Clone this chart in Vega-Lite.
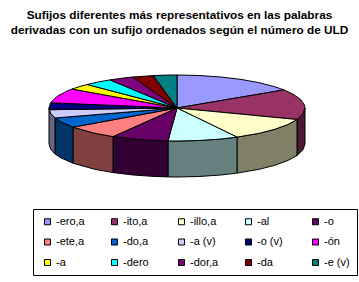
{
"$schema":"https://vega.github.io/schema/vega-lite/v6.json",
"autosize":{"type":"none"},
"padding":{"top":40,"left":0,"right":0,"bottom":0},
"width":359,"height":242,
"background":"white",
"config":{"view":{"stroke":null},"font":"Liberation Sans"},
"title":{"text":["Sufijos diferentes más representativos en las palabras","derivadas con un sufijo ordenados según el número de ULD"],"font":"Liberation Sans","fontSize":11.8,"fontWeight":"bold","color":"black","anchor":"middle","frame":"group","lineHeight":15,"offset":3},
"datasets":{
"top":[
{"s":"-ero,a","i":0,"x":0,"y":0},{"s":"-ero,a","i":1,"x":0,"y":33},{"s":"-ero,a","i":2,"x":22.2,"y":32.5},{"s":"-ero,a","i":3,"x":43.8,"y":31},{"s":"-ero,a","i":4,"x":64,"y":28.6},{"s":"-ero,a","i":5,"x":82.3,"y":25.3},{"s":"-ero,a","i":6,"x":98,"y":21.2},{"s":"-ero,a","i":7,"x":107,"y":18.1},{"s":"-ero,a","i":8,"x":0,"y":0},
{"s":"-ito,a","i":0,"x":0,"y":0},{"s":"-ito,a","i":1,"x":107,"y":18.1},{"s":"-ito,a","i":2,"x":116,"y":13.9},{"s":"-ito,a","i":3,"x":123.6,"y":8.5},{"s":"-ito,a","i":4,"x":127.5,"y":2.9},{"s":"-ito,a","i":5,"x":128,"y":0},{"s":"-ito,a","i":6,"x":126,"y":-5.7},{"s":"-ito,a","i":7,"x":120,"y":-11.5},{"s":"-ito,a","i":8,"x":0,"y":0},
{"s":"-illo,a","i":0,"x":0,"y":0},{"s":"-illo,a","i":1,"x":120,"y":-11.5},{"s":"-illo,a","i":2,"x":110.9,"y":-16.5},{"s":"-illo,a","i":3,"x":98,"y":-21.2},{"s":"-illo,a","i":4,"x":82.3,"y":-25.3},{"s":"-illo,a","i":5,"x":60,"y":-29.1},{"s":"-illo,a","i":6,"x":0,"y":0},
{"s":"-al","i":0,"x":0,"y":0},{"s":"-al","i":1,"x":60,"y":-29.1},{"s":"-al","i":2,"x":43.8,"y":-31},{"s":"-al","i":3,"x":22.2,"y":-32.5},{"s":"-al","i":4,"x":0,"y":-33},{"s":"-al","i":5,"x":-9,"y":-32.9},{"s":"-al","i":6,"x":0,"y":0},
{"s":"-o","i":0,"x":0,"y":0},{"s":"-o","i":1,"x":-9,"y":-32.9},{"s":"-o","i":2,"x":-22.2,"y":-32.5},{"s":"-o","i":3,"x":-43.8,"y":-31},{"s":"-o","i":4,"x":-64,"y":-28.6},{"s":"-o","i":5,"x":0,"y":0},
{"s":"-ete,a","i":0,"x":0,"y":0},{"s":"-ete,a","i":1,"x":-64,"y":-28.6},{"s":"-ete,a","i":2,"x":-82.3,"y":-25.3},{"s":"-ete,a","i":3,"x":-104,"y":-19.2},{"s":"-ete,a","i":4,"x":0,"y":0},
{"s":"-do,a","i":0,"x":0,"y":0},{"s":"-do,a","i":1,"x":-104,"y":-19.2},{"s":"-do,a","i":2,"x":-116,"y":-13.9},{"s":"-do,a","i":3,"x":-122,"y":-10},{"s":"-do,a","i":4,"x":0,"y":0},
{"s":"-a (v)","i":0,"x":0,"y":0},{"s":"-a (v)","i":1,"x":-122,"y":-10},{"s":"-a (v)","i":2,"x":-126,"y":-5.7},{"s":"-a (v)","i":3,"x":-127.8,"y":-1.7},{"s":"-a (v)","i":4,"x":0,"y":0},
{"s":"-o (v)","i":0,"x":0,"y":0},{"s":"-o (v)","i":1,"x":-127.8,"y":-1.7},{"s":"-o (v)","i":2,"x":-128,"y":0},{"s":"-o (v)","i":3,"x":-126.4,"y":5.2},{"s":"-o (v)","i":4,"x":0,"y":0},
{"s":"-ón","i":0,"x":0,"y":0},{"s":"-ón","i":1,"x":-126.4,"y":5.2},{"s":"-ón","i":2,"x":-120.3,"y":11.3},{"s":"-ón","i":3,"x":-110.9,"y":16.5},{"s":"-ón","i":4,"x":-105,"y":18.9},{"s":"-ón","i":5,"x":0,"y":0},
{"s":"-a","i":0,"x":0,"y":0},{"s":"-a","i":1,"x":-105,"y":18.9},{"s":"-a","i":2,"x":-98,"y":21.2},{"s":"-a","i":3,"x":-90,"y":23.5},{"s":"-a","i":4,"x":0,"y":0},
{"s":"-dero","i":0,"x":0,"y":0},{"s":"-dero","i":1,"x":-90,"y":23.5},{"s":"-dero","i":2,"x":-78.8,"y":26},{"s":"-dero","i":3,"x":-67,"y":28.1},{"s":"-dero","i":4,"x":0,"y":0},
{"s":"-dor,a","i":0,"x":0,"y":0},{"s":"-dor,a","i":1,"x":-67,"y":28.1},{"s":"-dor,a","i":2,"x":-54,"y":29.9},{"s":"-dor,a","i":3,"x":-44.3,"y":31},{"s":"-dor,a","i":4,"x":0,"y":0},
{"s":"-da","i":0,"x":0,"y":0},{"s":"-da","i":1,"x":-44.3,"y":31},{"s":"-da","i":2,"x":-23.7,"y":32.4},{"s":"-da","i":3,"x":0,"y":0},
{"s":"-e (v)","i":0,"x":0,"y":0},{"s":"-e (v)","i":1,"x":-23.7,"y":32.4},{"s":"-e (v)","i":2,"x":-11.2,"y":32.9},{"s":"-e (v)","i":3,"x":0,"y":33},{"s":"-e (v)","i":4,"x":0,"y":0}
],
"wall":[
{"s":"-ito,a","i":0,"x":128,"y":0},{"s":"-ito,a","i":1,"x":126,"y":-5.7},{"s":"-ito,a","i":2,"x":120,"y":-11.5},{"s":"-ito,a","i":3,"x":120,"y":-47.5},{"s":"-ito,a","i":4,"x":126,"y":-41.7},{"s":"-ito,a","i":5,"x":128,"y":-36},{"s":"-ito,a","i":6,"x":128,"y":0},
{"s":"-illo,a","i":0,"x":120,"y":-11.5},{"s":"-illo,a","i":1,"x":110.9,"y":-16.5},{"s":"-illo,a","i":2,"x":98,"y":-21.2},{"s":"-illo,a","i":3,"x":82.3,"y":-25.3},{"s":"-illo,a","i":4,"x":60,"y":-29.1},{"s":"-illo,a","i":5,"x":60,"y":-65.1},{"s":"-illo,a","i":6,"x":82.3,"y":-61.3},{"s":"-illo,a","i":7,"x":98,"y":-57.2},{"s":"-illo,a","i":8,"x":110.9,"y":-52.5},{"s":"-illo,a","i":9,"x":120,"y":-47.5},{"s":"-illo,a","i":10,"x":120,"y":-11.5},
{"s":"-al","i":0,"x":60,"y":-29.1},{"s":"-al","i":1,"x":43.8,"y":-31},{"s":"-al","i":2,"x":22.2,"y":-32.5},{"s":"-al","i":3,"x":0,"y":-33},{"s":"-al","i":4,"x":-9,"y":-32.9},{"s":"-al","i":5,"x":-9,"y":-68.9},{"s":"-al","i":6,"x":0,"y":-69},{"s":"-al","i":7,"x":22.2,"y":-68.5},{"s":"-al","i":8,"x":43.8,"y":-67},{"s":"-al","i":9,"x":60,"y":-65.1},{"s":"-al","i":10,"x":60,"y":-29.1},
{"s":"-o","i":0,"x":-9,"y":-32.9},{"s":"-o","i":1,"x":-22.2,"y":-32.5},{"s":"-o","i":2,"x":-43.8,"y":-31},{"s":"-o","i":3,"x":-64,"y":-28.6},{"s":"-o","i":4,"x":-64,"y":-64.6},{"s":"-o","i":5,"x":-43.8,"y":-67},{"s":"-o","i":6,"x":-22.2,"y":-68.5},{"s":"-o","i":7,"x":-9,"y":-68.9},{"s":"-o","i":8,"x":-9,"y":-32.9},
{"s":"-ete,a","i":0,"x":-64,"y":-28.6},{"s":"-ete,a","i":1,"x":-82.3,"y":-25.3},{"s":"-ete,a","i":2,"x":-104,"y":-19.2},{"s":"-ete,a","i":3,"x":-104,"y":-55.2},{"s":"-ete,a","i":4,"x":-82.3,"y":-61.3},{"s":"-ete,a","i":5,"x":-64,"y":-64.6},{"s":"-ete,a","i":6,"x":-64,"y":-28.6},
{"s":"-do,a","i":0,"x":-104,"y":-19.2},{"s":"-do,a","i":1,"x":-116,"y":-13.9},{"s":"-do,a","i":2,"x":-122,"y":-10},{"s":"-do,a","i":3,"x":-122,"y":-46},{"s":"-do,a","i":4,"x":-116,"y":-49.9},{"s":"-do,a","i":5,"x":-104,"y":-55.2},{"s":"-do,a","i":6,"x":-104,"y":-19.2},
{"s":"-a (v)","i":0,"x":-122,"y":-10},{"s":"-a (v)","i":1,"x":-126,"y":-5.7},{"s":"-a (v)","i":2,"x":-128,"y":0},{"s":"-a (v)","i":3,"x":-128,"y":-36},{"s":"-a (v)","i":4,"x":-126,"y":-41.7},{"s":"-a (v)","i":5,"x":-122,"y":-46},{"s":"-a (v)","i":6,"x":-122,"y":-10}
]
},
"layer":[
{"data":{"name":"wall"},
 "mark":{"type":"line","stroke":"black","strokeWidth":1},
 "encoding":{
  "x":{"field":"x","type":"quantitative","axis":null,"scale":{"domain":[-177,182],"nice":false,"zero":false}},
  "y":{"field":"y","type":"quantitative","axis":null,"scale":{"domain":[-174,68],"nice":false,"zero":false}},
  "order":{"field":"i","type":"quantitative"},
  "fill":{"field":"s","type":"nominal","legend":null,"scale":{"domain":["-ito,a","-illo,a","-al","-o","-ete,a","-do,a","-a (v)"],"range":["#4D1A33","#808066","#668080","#330033","#804040","#003366","#666680"]}}
 }},
{"data":{"name":"top"},
 "mark":{"type":"line","stroke":"black","strokeWidth":1},
 "encoding":{
  "x":{"field":"x","type":"quantitative","axis":null,"scale":{"domain":[-177,182],"nice":false,"zero":false}},
  "y":{"field":"y","type":"quantitative","axis":null,"scale":{"domain":[-174,68],"nice":false,"zero":false}},
  "order":{"field":"i","type":"quantitative"},
  "fill":{"field":"s","type":"nominal",
   "scale":{"domain":["-ero,a","-ito,a","-illo,a","-al","-o","-ete,a","-do,a","-a (v)","-o (v)","-ón","-a","-dero","-dor,a","-da","-e (v)"],
    "range":["#9999FF","#993366","#FFFFCC","#CCFFFF","#660066","#FF8080","#0066CC","#CCCCFF","#000080","#FF00FF","#FFFF00","#00FFFF","#800080","#800000","#008080"]},
   "legend":{"title":null,"orient":"none","direction":"horizontal","legendX":33,"legendY":169,"columns":5,"gridAlign":"all","symbolType":"square","symbolSize":36,"symbolStrokeColor":"black","symbolStrokeWidth":1,"symbolOffset":2,"labelFont":"Liberation Sans","labelFontSize":11,"labelColor":"black","labelOffset":3,"columnPadding":22,"rowPadding":8.5,"padding":7,"strokeColor":"black","fillColor":"white","symbolOpacity":1}}
 }}
],
"resolve":{"scale":{"fill":"independent"}}
}
